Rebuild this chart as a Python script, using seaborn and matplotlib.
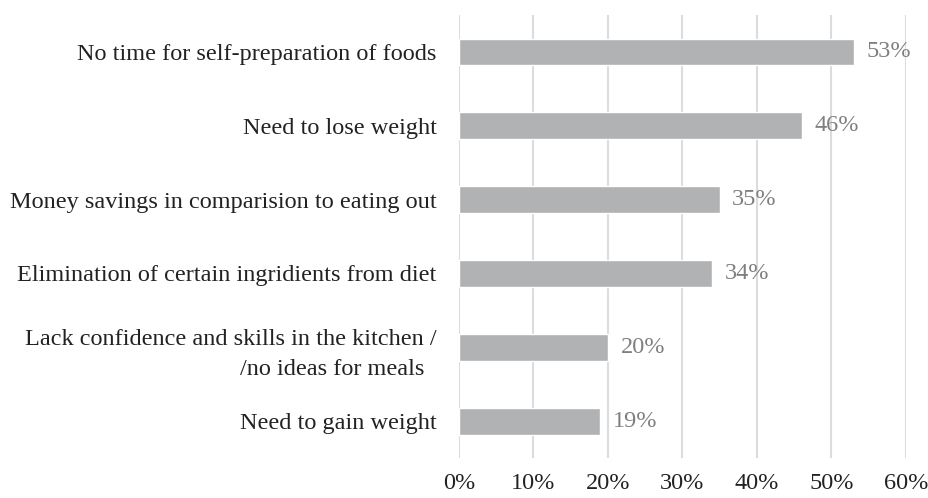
import matplotlib
matplotlib.use("Agg")
import matplotlib.pyplot as plt
import seaborn as sns
import pandas as pd

categories = [
    "No time for self-preparation of foods",
    "Need to lose weight",
    "Money savings in comparision to eating out",
    "Elimination of certain ingridients from diet",
    "Lack confidence and skills in the kitchen /\n/no ideas for meals  ",
    "Need to gain weight",
]
values = [53, 46, 35, 34, 20, 19]
xticks = [0, 10, 20, 30, 40, 50, 60]
xtick_labels = ["0%", "10%", "20%", "30%", "40%", "50%", "60%"]

sns.set_theme(style="white")
plt.rcParams["font.family"] = ["Liberation Serif", "DejaVu Serif"]

df = pd.DataFrame({"reason": categories, "share": values})

fig = plt.figure(figsize=(9.29, 4.98), dpi=100)
ax = fig.add_axes([0.494, 0.080, 0.481, 0.890])

sns.barplot(data=df, x="share", y="reason", color="#b1b2b4", width=0.36,
            saturation=1, ax=ax, zorder=3)

ax.bar_label(ax.containers[0], labels=[f"{v}%" for v in values],
             padding=9, fontsize=17.5, color="#7f7f7f")

ax.set_xlim(0, 60)
ax.set_xticks(xticks)
ax.set_xticklabels(xtick_labels)
ax.xaxis.grid(True, color="#dcdcdc", linewidth=1.5, zorder=0)
ax.yaxis.grid(False)
for s in ax.spines.values():
    s.set_visible(False)
ax.tick_params(axis="x", length=0, pad=11, labelsize=17.5, colors="#222222")
ax.tick_params(axis="y", length=0, pad=16, labelsize=17.5, colors="#222222")
for lbl in ax.get_yticklabels():
    lbl.set_linespacing(1.55)
ax.set_xlabel("")
ax.set_ylabel("")

fig.savefig("out.png", dpi=100)
